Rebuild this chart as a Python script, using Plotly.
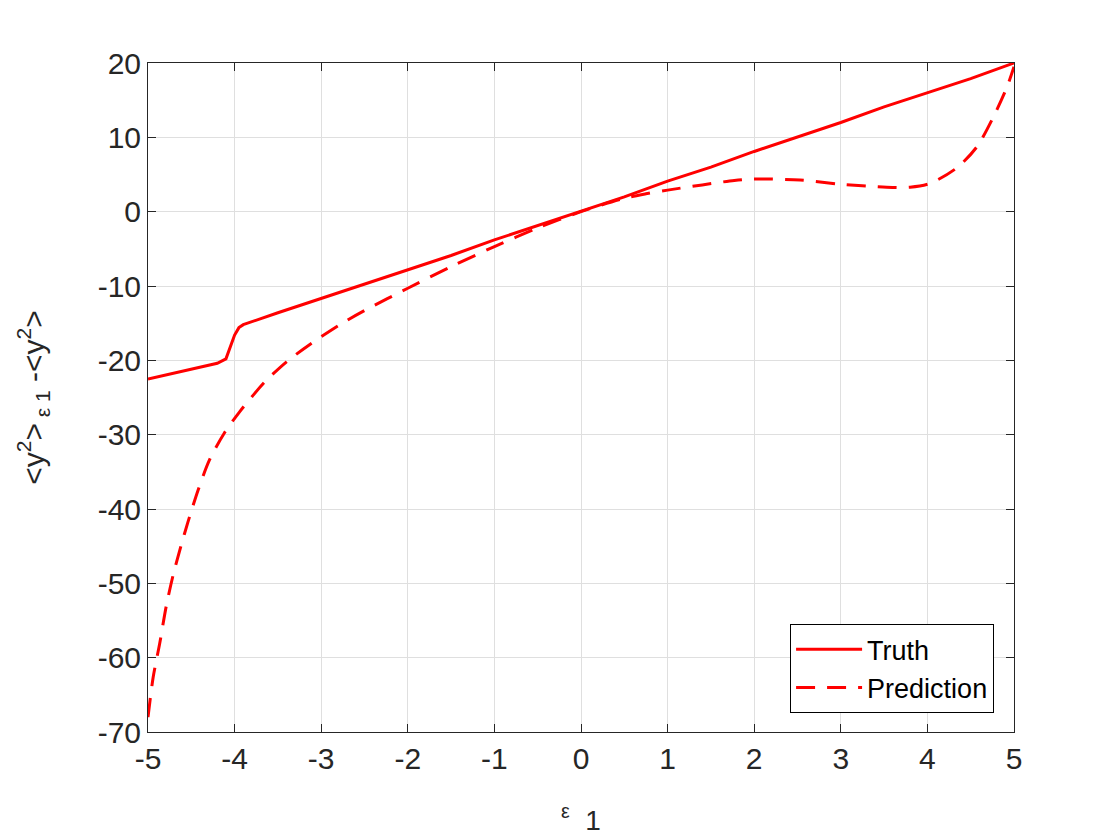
import plotly.graph_objects as go

truth_x = [-5, -4.6, -4.2, -4.1, -4.05, -4.0, -3.95, -3.9, -3.5, -3, -2.5, -2, -1.5, -1, -0.5,
           0, 0.5, 1, 1.5, 2, 2.5, 3, 3.5, 4, 4.5, 5]
truth_y = [-22.5, -21.5, -20.4, -19.8, -18.1, -16.6, -15.6, -15.2, -13.6, -11.7, -9.8, -7.9,
           -5.9, -3.8, -1.9, 0, 2.0, 4.1, 6.0, 8.1, 10.0, 12.0, 14.1, 16.0, 17.9, 20.0]

pred_x = [-5, -4.94, -4.865, -4.79, -4.71, -4.62, -4.54, -4.42, -4.29, -4.12, -3.94, -3.8,
          -3.66, -3.4, -3.11, -2.77, -2.5, -2, -1.5, -1, -0.5, 0, 0.5, 0.75, 1, 1.4, 1.77,
          2, 2.53, 2.99, 3.53, 3.8, 4.03, 4.34, 4.57, 4.76, 4.92, 5]
pred_y = [-68, -62.6, -58.1, -53.1, -48.9, -45.0, -41.8, -37.4, -33.4, -29.8, -26.9, -24.9,
          -23.0, -20.2, -17.7, -15.1, -13.3, -10.3, -7.4, -4.7, -2.2, 0, 1.8, 2.4, 2.9, 3.6,
          4.2, 4.4, 4.25, 3.7, 3.3, 3.3, 3.8, 5.9, 8.7, 12.7, 16.8, 19.5]

x_ticks = [-5, -4, -3, -2, -1, 0, 1, 2, 3, 4, 5]
x_labels = ["-5", "-4", "-3", "-2", "-1", "0", "1", "2", "3", "4", "5"]
y_ticks = [-70, -60, -50, -40, -30, -20, -10, 0, 10, 20]
y_labels = ["-70", "-60", "-50", "-40", "-30", "-20", "-10", "0", "10", "20"]

font = "Liberation Sans, Arial, Helvetica, sans-serif"
axc = "#262626"

fig = go.Figure()
fig.add_trace(go.Scatter(x=truth_x, y=truth_y, mode="lines", name="Truth",
                         line=dict(color="#ff0000", width=3)))
fig.add_trace(go.Scatter(x=pred_x, y=pred_y, mode="lines", name="Prediction",
                         line=dict(color="#ff0000", width=3, dash="19px,12px",
                                   shape="spline", smoothing=0.8)))

axis_common = dict(showline=True, linecolor=axc, linewidth=1, mirror="ticks",
                   ticks="inside", ticklen=8, tickcolor=axc, showgrid=True,
                   gridcolor="#dfdfdf", gridwidth=1, zeroline=False,
                   tickfont=dict(family=font, size=30, color=axc))

fig.update_xaxes(range=[-5, 5], tickvals=x_ticks, ticktext=x_labels, **axis_common,
                 title=dict(text="<sup>ε</sup>  1", font=dict(family=font, size=28, color=axc),
                            standoff=36))
fig.update_yaxes(range=[-70, 20], tickvals=y_ticks, ticktext=y_labels, **axis_common,
                 title=dict(text="&lt;y<sup>2</sup>&gt;<sub> ε 1</sub> -&lt;y<sup>2</sup>&gt;",
                            font=dict(family=font, size=30, color=axc), standoff=44))

fig.update_layout(
    width=1120, height=840,
    margin=dict(l=140, r=114, t=55, b=116, autoexpand=False),
    paper_bgcolor="white", plot_bgcolor="white",
    legend=dict(x=0.977, y=0.028, xanchor="right", yanchor="bottom",
                bgcolor="white", bordercolor="#000000", borderwidth=1,
                font=dict(family=font, size=27, color="#000000"),
                tracegroupgap=0, itemwidth=66),
    showlegend=True,
)

fig.write_html("out.html")
